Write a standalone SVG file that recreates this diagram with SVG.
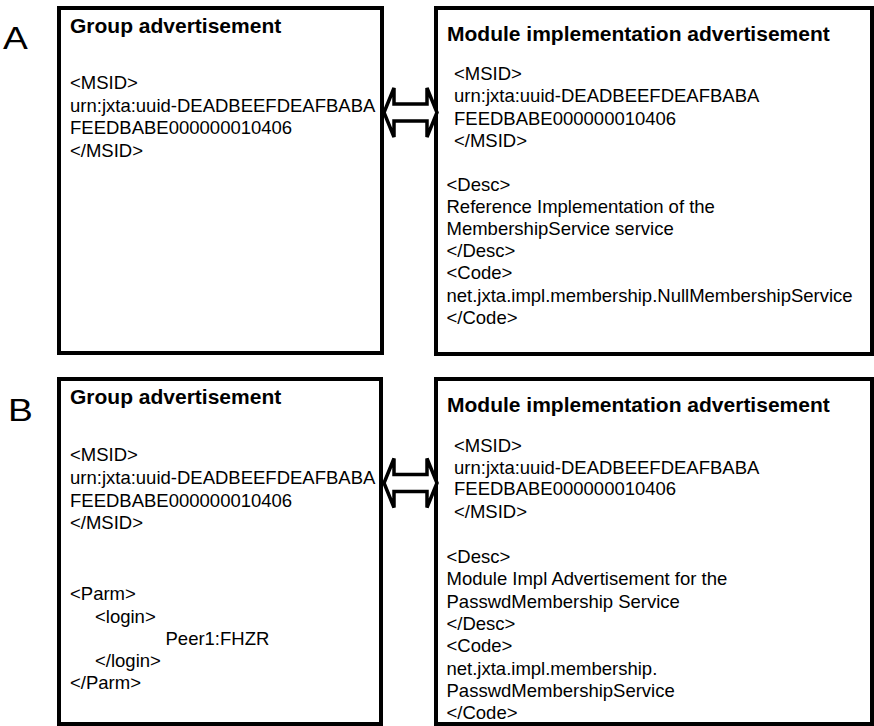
<svg xmlns="http://www.w3.org/2000/svg" width="874" height="726" viewBox="0 0 874 726">
  <style>
    .box { fill: #ffffff; stroke: #000000; stroke-width: 4; }
    .title { font-family: "Liberation Sans", Arial, sans-serif; font-size: 21px; font-weight: bold; fill: #000000; }
    .body { font-family: "Liberation Sans", Arial, sans-serif; font-size: 18.5px; fill: #000000; }
    .panel { font-family: "Liberation Sans", Arial, sans-serif; font-size: 31px; fill: #000000; }
    .link { fill: #ffffff; stroke: #000000; stroke-width: 3.5; stroke-linejoin: miter; }
  </style>
  <rect width="874" height="726" fill="#ffffff"/>

  <!-- panel letters (slightly wide set) -->
  <text class="panel" transform="translate(3,49) scale(1.2,1)">A</text>
  <text class="panel" transform="translate(8,421) scale(1.2,1)">B</text>

  <!-- panel A: group advertisement -->
  <g id="group-adv-a">
    <rect class="box" x="59" y="8" width="323" height="345"/>
    <text class="title" x="70" y="33">Group advertisement</text>
    <text class="body" x="70" y="89">&lt;MSID&gt;</text>
    <text class="body" x="70" y="111.5">urn:jxta:uuid-DEADBEEFDEAFBABA</text>
    <text class="body" x="70" y="134">FEEDBABE000000010406</text>
    <text class="body" x="70" y="156.5">&lt;/MSID&gt;</text>
  </g>

  <!-- panel A: module implementation advertisement -->
  <g id="module-impl-adv-a">
    <rect class="box" x="436" y="8" width="436" height="346"/>
    <text class="title" x="447" y="40.5">Module implementation advertisement</text>
    <text class="body" x="454" y="80">&lt;MSID&gt;</text>
    <text class="body" x="454" y="102">urn:jxta:uuid-DEADBEEFDEAFBABA</text>
    <text class="body" x="454" y="124.5">FEEDBABE000000010406</text>
    <text class="body" x="454" y="146.5">&lt;/MSID&gt;</text>
    <text class="body" x="446.5" y="190.5">&lt;Desc&gt;</text>
    <text class="body" x="446.5" y="212.5">Reference Implementation of the</text>
    <text class="body" x="446.5" y="234.5">MembershipService service</text>
    <text class="body" x="446.5" y="256.5">&lt;/Desc&gt;</text>
    <text class="body" x="446.5" y="279">&lt;Code&gt;</text>
    <text class="body" x="446.5" y="301.5">net.jxta.impl.membership.NullMembershipService</text>
    <text class="body" x="446.5" y="324">&lt;/Code&gt;</text>
  </g>

  <!-- panel B: group advertisement with login parameter -->
  <g id="group-adv-b">
    <rect class="box" x="59" y="379" width="322" height="345"/>
    <text class="title" x="70" y="403.5">Group advertisement</text>
    <text class="body" x="70" y="461">&lt;MSID&gt;</text>
    <text class="body" x="70" y="483.5">urn:jxta:uuid-DEADBEEFDEAFBABA</text>
    <text class="body" x="70" y="506.5">FEEDBABE000000010406</text>
    <text class="body" x="70" y="528.5">&lt;/MSID&gt;</text>
    <text class="body" x="70" y="600">&lt;Parm&gt;</text>
    <text class="body" x="95" y="622.5">&lt;login&gt;</text>
    <text class="body" x="165.5" y="645">Peer1:FHZR</text>
    <text class="body" x="95" y="667">&lt;/login&gt;</text>
    <text class="body" x="70" y="689">&lt;/Parm&gt;</text>
  </g>

  <!-- panel B: module implementation advertisement -->
  <g id="module-impl-adv-b">
    <rect class="box" x="436" y="379" width="436" height="345"/>
    <text class="title" x="447" y="411.5">Module implementation advertisement</text>
    <text class="body" x="454" y="451.5">&lt;MSID&gt;</text>
    <text class="body" x="454" y="473.5">urn:jxta:uuid-DEADBEEFDEAFBABA</text>
    <text class="body" x="454" y="495">FEEDBABE000000010406</text>
    <text class="body" x="454" y="517.5">&lt;/MSID&gt;</text>
    <text class="body" x="446.5" y="562.5">&lt;Desc&gt;</text>
    <text class="body" x="446.5" y="585">Module Impl Advertisement for the</text>
    <text class="body" x="446.5" y="607.5">PasswdMembership Service</text>
    <text class="body" x="446.5" y="629.5">&lt;/Desc&gt;</text>
    <text class="body" x="446.5" y="652">&lt;Code&gt;</text>
    <text class="body" x="446.5" y="674.5">net.jxta.impl.membership.</text>
    <text class="body" x="446.5" y="696.5">PasswdMembershipService</text>
    <text class="body" x="446.5" y="718.5">&lt;/Code&gt;</text>
  </g>

  <!-- double-headed block arrows between the advertisements -->
  <g id="connectors">
    <polygon class="link" points="384,112.5 394,88 394,104 427,104 427,88 437,112.5 427,137 427,121 394,121 394,137"/>
    <polygon class="link" points="384,483 394,458.5 394,474.5 427,474.5 427,458.5 437,483 427,507.5 427,491.5 394,491.5 394,507.5"/>
  </g>
</svg>
